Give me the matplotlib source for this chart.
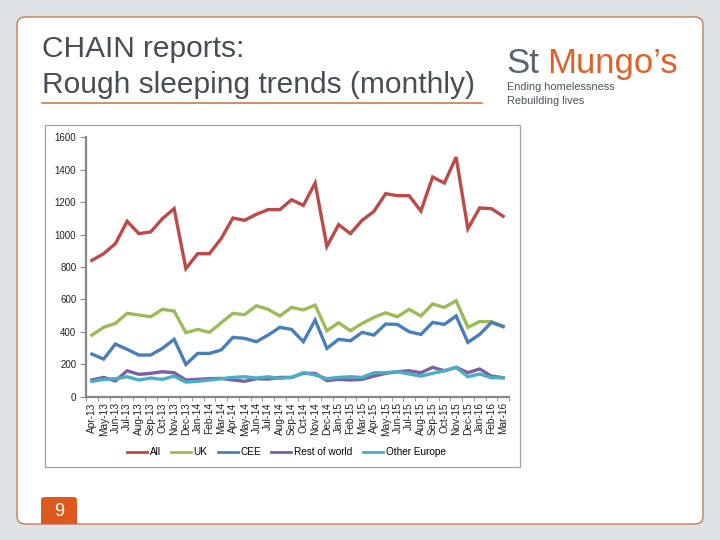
import matplotlib
matplotlib.use("Agg")
import matplotlib.pyplot as plt
from matplotlib.patches import FancyBboxPatch, Rectangle
from matplotlib.lines import Line2D
from matplotlib.transforms import IdentityTransform
import numpy as np

months = ['Apr-13', 'May-13', 'Jun-13', 'Jul-13', 'Aug-13', 'Sep-13', 'Oct-13', 'Nov-13', 'Dec-13',
          'Jan-14', 'Feb-14', 'Mar-14', 'Apr-14', 'May-14', 'Jun-14', 'Jul-14', 'Aug-14', 'Sep-14',
          'Oct-14', 'Nov-14', 'Dec-14', 'Jan-15', 'Feb-15', 'Mar-15', 'Apr-15', 'May-15', 'Jun-15',
          'Jul-15', 'Aug-15', 'Sep-15', 'Oct-15', 'Nov-15', 'Dec-15', 'Jan-16', 'Feb-16', 'Mar-16']

all_vals = [841, 882, 944, 1082, 1006, 1016, 1098, 1160, 790, 882, 882, 975, 1102, 1088, 1125, 1154,
            1154, 1215, 1180, 1318, 927, 1061, 1006, 1088, 1143, 1252, 1240, 1240, 1145, 1355, 1318,
            1478, 1036, 1164, 1160, 1113]
uk_vals = [380, 428, 452, 514, 504, 493, 539, 528, 395, 415, 397, 456, 514, 506, 561, 539, 498, 551,
           535, 565, 407, 456, 407, 452, 489, 518, 493, 539, 498, 572, 551, 592, 428, 463, 463, 436]
cee_vals = [263, 232, 325, 292, 257, 257, 298, 354, 199, 267, 267, 288, 366, 360, 339, 380, 428, 415,
            339, 473, 298, 354, 345, 397, 380, 448, 446, 401, 384, 458, 446, 498, 335, 384, 458, 432]
row_vals = [103, 119, 97, 160, 138, 144, 154, 148, 103, 107, 111, 113, 103, 95, 111, 109, 119, 119,
            144, 144, 99, 107, 103, 107, 127, 144, 154, 160, 148, 181, 160, 181, 148, 171, 127, 117]
oe_vals = [95, 107, 111, 123, 103, 115, 107, 127, 90, 95, 103, 111, 119, 123, 115, 123, 113, 119,
           148, 134, 111, 119, 123, 119, 148, 148, 154, 140, 127, 144, 160, 181, 123, 140, 117, 117]

series_names = ['All', 'UK', 'CEE', 'Rest of world', 'Other Europe']
series_vals = [all_vals, uk_vals, cee_vals, row_vals, oe_vals]
series_colors = ['#BB4A48', '#9BBB59', '#4A7EBB', '#7D5F9E', '#4BACC6']

yticks = [0, 200, 400, 600, 800, 1000, 1200, 1400, 1600]

W, H = 720, 540
fig = plt.figure(figsize=(7.2, 5.4), dpi=100)
fig.patch.set_facecolor('#dfe3e6')

def px(x, y):
    return (x, H - y)

# white card
card = FancyBboxPatch(px(17, 524), 686, 507, boxstyle="round,pad=0,rounding_size=8",
                      facecolor='white', edgecolor='#c97b50', linewidth=1.0,
                      transform=IdentityTransform(), zorder=-3)
fig.patches.append(card)

# chart box
box = Rectangle(px(45, 467), 475, 342, facecolor='white', edgecolor='#a0a0a0', linewidth=0.9,
                transform=IdentityTransform(), zorder=-2)
fig.patches.append(box)

# page number box
pbox = FancyBboxPatch(px(41, 524), 36, 27, boxstyle="round,pad=0,rounding_size=3",
                      facecolor='#dd5a1e', edgecolor='none', transform=IdentityTransform(), zorder=-1)
fig.patches.append(pbox)
pbox2 = Rectangle(px(41, 524), 36, 10, facecolor='#dd5a1e', edgecolor='none',
                  transform=IdentityTransform(), zorder=-1)
fig.patches.append(pbox2)
fig.text(59 / W, 1 - 511 / H, '9', color='white', fontsize=13, ha='center', va='center',
         family='Liberation Sans')

# title
fig.text(42 / W, 1 - 57 / H, 'CHAIN reports:', fontsize=21.5, color='#474d54',
         family='Liberation Sans', ha='left', va='baseline')
fig.text(42 / W, 1 - 93 / H, 'Rough sleeping trends (monthly)', fontsize=21.5, color='#474d54',
         family='Liberation Sans', ha='left', va='baseline')
fig.lines.append(Line2D([42 / W, 482 / W], [1 - 103 / H, 1 - 103 / H], transform=fig.transFigure,
                        color='#c0703f', linewidth=1.1))

# logo
logo_font = ['Liberation Sans Narrow', 'Liberation Sans']
fig.text(506 / W, 1 - 73 / H, 'St', fontsize=25, color='#5b6570', family=logo_font,
         ha='left', va='baseline')
fig.text(547 / W, 1 - 73 / H, 'Mungo\u2019s', fontsize=25, color='#e0622a', family=logo_font,
         ha='left', va='baseline')
fig.text(507 / W, 1 - 90 / H, 'Ending homelessness', fontsize=7.9, color='#4b535b',
         family=logo_font, ha='left', va='baseline')
fig.text(507 / W, 1 - 104 / H, 'Rebuilding lives', fontsize=7.9, color='#4b535b',
         family=logo_font, ha='left', va='baseline')

# axes
ax = fig.add_axes([86 / W, 1 - 396.7 / H, (509 - 86) / W, (396.7 - 137.3) / H])
ax.set_facecolor('none')
x = np.arange(len(months))
for name, vals, col in zip(series_names, series_vals, series_colors):
    ax.plot(x, vals, color=col, linewidth=2.4, label=name, solid_joinstyle='miter')

ax.set_xlim(-0.5, len(months) - 0.5)
ax.set_ylim(0, 1600)
ax.set_yticks(yticks)
ax.set_yticklabels([str(v) for v in yticks], fontsize=7, family='Liberation Sans', color='#222222')
ax.set_xticks(x)
ax.set_xticklabels(months, rotation=90, fontsize=7.3, family='Liberation Sans', color='#222222')
ax.set_xticks(np.arange(-0.5, len(months), 1.0), minor=True)
ax.tick_params(axis='x', which='major', length=0, pad=4)
ax.tick_params(axis='x', which='minor', length=3, color='#888888', direction='out')
ax.tick_params(axis='y', length=4, color='#888888', direction='out', pad=3)
for s in ['top', 'right']:
    ax.spines[s].set_visible(False)
for s in ['left', 'bottom']:
    ax.spines[s].set_color('#888888')
    ax.spines[s].set_linewidth(1.6)

handles, labels = ax.get_legend_handles_labels()
leg = fig.legend(handles, labels, loc='center', bbox_to_anchor=(286 / W, 1 - 452 / H),
                 ncol=5, frameon=False, handlelength=2.0, handletextpad=0.3,
                 columnspacing=1.0, prop={'family': 'Liberation Sans', 'size': 7.2})
for lh in leg.get_lines():
    lh.set_linewidth(2.0)

fig.savefig('out.png', dpi=100, facecolor=fig.get_facecolor())
